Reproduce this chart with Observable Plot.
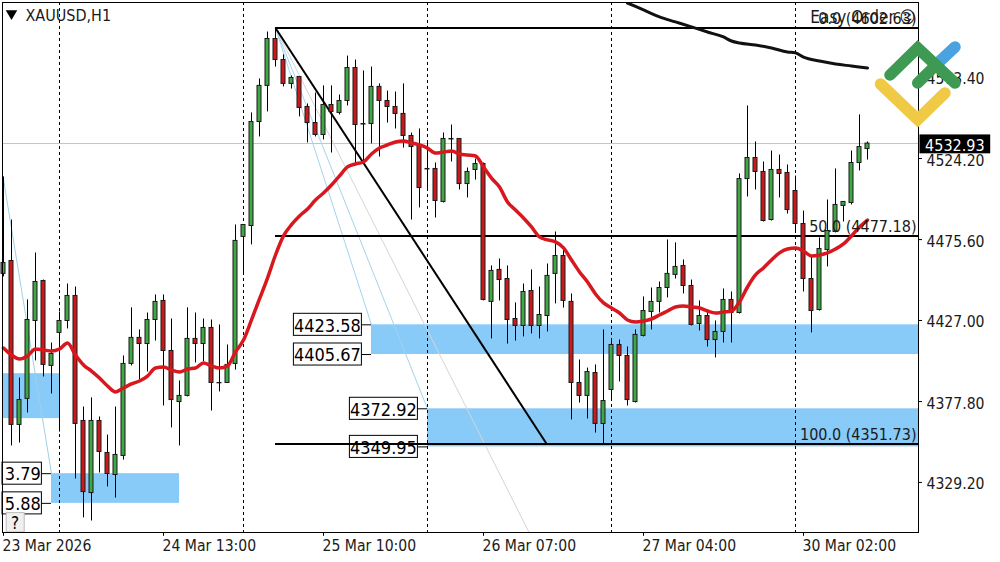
<!DOCTYPE html>
<html><head><meta charset="utf-8">
<script src="https://cdn.jsdelivr.net/npm/d3@7"></script>
<script src="https://cdn.jsdelivr.net/npm/@observablehq/plot@0.6"></script>
<style>html,body{margin:0;padding:0;background:#fff}svg{display:block}</style>
</head><body><div id="chart"></div>
<script>
const FONT = '"DejaVu Sans Condensed","Liberation Sans",sans-serif';
// OHLC, one value per hourly bar
const open = [4454.3,4462.1,4363.2,4378.9,4425.9,4450.0,4398.8,4418.7,4425.9,4441.0,4365.6,4322.1,4365.6,4346.3,4333.0,4344.5,4400.0,4415.7,4412.0,4426.5,4438.0,4407.8,4377.0,4380.7,4415.1,4412.0,4421.7,4388.5,4388.5,4400.0,4476.6,4483.2,4545.9,4567.7,4596.0,4583.3,4568.9,4573.1,4555.0,4545.3,4538.1,4556.2,4551.4,4558.6,4578.5,4544.7,4544.7,4567.1,4558.6,4555.0,4550.8,4537.5,4531.4,4517.6,4517.6,4497.7,4535.7,4535.7,4508.5,4517.0,4520.6,4437.4,4456.7,4451.2,4427.1,4422.9,4444.0,4422.9,4428.9,4454.3,4465.1,4437.4,4388.5,4380.7,4394.5,4363.8,4384.3,4411.4,4404.8,4377.0,4416.9,4431.3,4437.4,4445.8,4453.7,4459.1,4447.0,4424.1,4428.9,4414.4,4419.3,4438.6,4430.7,4511.5,4524.2,4515.8,4486.8,4517.0,4515.2,4504.3,4484.4,4451.2,4432.5,4468.7,4479.6,4495.3,4497.1,4521.2,4529.6];
const high = [4512.8,4486.8,4391.5,4438.6,4466.9,4450.6,4412.6,4431.3,4448.2,4446.4,4374.0,4379.5,4368.0,4357.1,4374.0,4404.8,4433.8,4420.5,4430.7,4441.6,4441.6,4427.1,4389.7,4433.8,4430.7,4427.1,4426.5,4423.5,4411.4,4483.8,4483.8,4551.4,4571.9,4600.2,4602.6,4586.4,4573.7,4573.1,4556.8,4563.4,4567.7,4567.7,4562.2,4585.7,4583.3,4576.7,4579.1,4568.9,4564.6,4564.0,4568.9,4539.3,4541.7,4534.5,4521.2,4539.3,4544.1,4535.7,4518.2,4523.6,4521.2,4459.1,4463.3,4459.1,4436.8,4448.2,4456.7,4446.4,4460.3,4479.6,4468.7,4442.2,4402.4,4397.5,4399.4,4420.5,4414.4,4414.4,4410.2,4420.5,4440.4,4445.8,4449.4,4474.8,4473.0,4462.7,4450.6,4438.0,4432.5,4425.9,4445.2,4443.4,4514.6,4555.6,4533.9,4521.8,4528.4,4526.0,4520.0,4513.3,4492.2,4464.5,4476.0,4498.9,4517.6,4497.7,4528.4,4550.2,4533.9];
const low = [4452.5,4350.5,4352.3,4370.4,4401.8,4392.1,4381.9,4358.9,4421.1,4330.6,4307.1,4305.2,4334.2,4325.8,4319.1,4342.0,4398.8,4390.3,4395.1,4413.8,4374.6,4361.4,4350.5,4380.1,4400.6,4401.2,4371.6,4383.1,4388.3,4396.3,4454.3,4471.8,4536.9,4552.0,4579.1,4567.1,4565.8,4549.0,4533.3,4536.9,4535.1,4527.2,4550.2,4555.6,4521.2,4521.2,4532.7,4524.8,4545.3,4541.7,4530.2,4486.8,4494.1,4504.3,4488.0,4497.1,4521.8,4504.9,4500.1,4510.9,4438.0,4415.1,4438.0,4412.0,4413.8,4416.3,4418.1,4415.1,4419.3,4436.2,4433.7,4366.2,4376.4,4366.8,4358.3,4351.1,4378.2,4389.1,4374.6,4376.4,4416.3,4420.5,4430.7,4439.8,4451.2,4442.2,4422.9,4419.9,4410.2,4403.6,4412.6,4412.6,4430.1,4500.7,4504.9,4485.6,4486.2,4500.1,4490.4,4479.0,4443.4,4418.7,4431.9,4458.5,4479.0,4485.6,4495.9,4516.4,4523.0];
const close = [4460.9,4363.2,4378.2,4426.5,4449.4,4399.4,4406.0,4425.9,4441.0,4363.8,4322.7,4365.6,4346.9,4333.6,4345.1,4400.0,4415.7,4412.0,4426.5,4437.4,4407.8,4378.2,4380.7,4415.1,4412.0,4421.7,4388.5,4388.3,4399.4,4474.2,4483.8,4545.9,4567.7,4596.0,4583.3,4568.9,4572.5,4554.4,4545.3,4538.1,4556.2,4552.0,4558.6,4578.5,4544.1,4544.4,4567.1,4558.6,4555.0,4550.8,4537.5,4530.8,4506.1,4517.3,4498.3,4535.7,4535.4,4508.5,4515.8,4520.6,4438.6,4456.1,4450.6,4426.5,4422.9,4443.4,4422.9,4429.5,4453.1,4465.1,4438.0,4388.5,4380.7,4395.1,4363.8,4377.6,4411.4,4404.8,4378.2,4417.5,4431.9,4437.4,4445.8,4454.3,4458.5,4447.0,4423.5,4428.9,4414.4,4419.3,4438.6,4430.7,4511.5,4524.2,4515.8,4486.2,4517.0,4514.6,4492.8,4484.4,4451.2,4431.9,4469.3,4480.2,4495.9,4497.7,4521.2,4530.8,4532.9];
// red moving average, one value per bar
const redMA = [4409.6,4405.4,4403.0,4404.8,4409.0,4408.4,4407.8,4409.0,4412.6,4405.4,4399.4,4395.7,4391.5,4386.7,4383.1,4385.5,4387.9,4389.7,4392.7,4397.5,4398.1,4396.3,4395.1,4396.9,4397.5,4400.6,4398.8,4397.5,4398.8,4407.2,4414.4,4426.5,4439.2,4451.8,4465.7,4477.2,4484.0,4489.2,4493.4,4498.9,4503.1,4507.9,4513.4,4518.8,4520.6,4521.8,4526.6,4530.2,4532.1,4533.9,4534.5,4533.3,4532.1,4530.2,4527.2,4527.8,4528.4,4526.6,4526.0,4525.4,4518.8,4512.1,4506.7,4497.7,4492.8,4488.0,4482.6,4476.6,4474.8,4473.6,4470.0,4462.7,4455.5,4449.4,4442.2,4436.8,4433.7,4430.7,4426.5,4425.3,4425.9,4427.1,4429.5,4431.9,4434.3,4435.0,4434.3,4433.7,4431.9,4430.7,4431.3,4431.9,4437.4,4446.4,4453.7,4457.9,4462.7,4467.0,4469.3,4469.9,4468.1,4465.1,4465.7,4467.0,4469.3,4472.4,4477.2,4482.6,4486.8];
// black moving average, read at these bars
const blackBars = [78,80,82,84,86,88,90,91,92,94,96,98,99,100,102,104,106,108];
const blackMA = [4617.7,4613.5,4609.3,4606.3,4603.3,4600.2,4597.2,4594.8,4593.6,4592.4,4590.6,4588.2,4587.6,4585.1,4582.7,4580.9,4579.7,4578.5];
// axes
const xTickBars = [0,20,40,60,80,100];
const xTickLabels = ["23 Mar 2026","24 Mar 13:00","25 Mar 10:00","26 Mar 07:00","27 Mar 04:00","30 Mar 02:00"];
const yTickAt = [4572.8,4523.9,4475.0,4426.2,4377.3,4328.5];
const yTickLabels = ["4573.40","4524.20","4475.60","4427.00","4377.80","4329.20"];
const sessionBars = [7,30,53,76,99];
// Fibonacci levels
const fibStartBar = 34, fibEndBar = 67.9;
const fibLevels = [4602.63,4477.18,4351.73];
const fibLabels = ["0.0 (4602.63)","50.0 (4477.18)","100.0 (4351.73)"];
const lastPrice = 4532.93;
// zones: start bar, end bar, top, bottom
const zoneStart = [-0.125,6,46,53];
const zoneEnd = [7,22,114.375,114.375];
const zoneTop = [4394.1,4333.79,4423.58,4372.92];
const zoneBottom = [4367.0,4315.88,4405.67,4349.95];
// zone price tags
const tagBars = [6,6,46,46,53,53];
const tagPrices = [4333.79,4315.88,4423.58,4405.67,4372.92,4349.95];
const tagTexts = ["3.79","5.88","4423.58","4405.67","4372.92","4349.95"];
// thin trend lines: x1,y1,x2,y2 in bars / price
const thinFrom = [[-0.05,4512.8],[34,4602.63],[34,4602.63],[34,4602.63]];
const thinTo = [[6,4333.79],[46,4423.58],[53,4372.92],[65.7,4298.31]];
const thinColor = ["#9fd0e8","#a5d3ec","#a5d3ec","#d4d4d4"];

const bars = open.map((o,i)=>({i,o,h:high[i],l:low[i],c:close[i],up:close[i]>o}));
const GREEN="#3fa845", RED="#cc1a1c", ZONE="#88caf8", INK="#1a1a1a";
const tagH = 6.65, tagW = 8.5, tagGap = 1.2;
const tags = tagBars.map((b,i)=>({right:b-tagGap,left:Math.max(-0.125,b-tagGap-tagW),b,p:tagPrices[i],t:tagTexts[i]}));

function logo(){
  const ns="http://www.w3.org/2000/svg", g=document.createElementNS(ns,"g");
  const parts=[["#4aa3e0","939,62 955,47"],["#f0c945","880.5,84 917.7,119.5 945,93"],["#3e9a52","890,75 917.7,48 955,83"],["#3e9a52","917.7,83 936,65"]];
  for(const [c,pts] of parts){
    const p=document.createElementNS(ns,"polyline");
    p.setAttribute("points",pts);p.setAttribute("fill","none");p.setAttribute("stroke",c);
    p.setAttribute("stroke-width","11.5");p.setAttribute("stroke-linecap","round");p.setAttribute("stroke-linejoin","miter");
    g.appendChild(p);
  }
  return g;
}

const chart = Plot.plot({
  width:1000,height:562,marginLeft:2,marginRight:82,marginTop:2,marginBottom:30,
  style:{fontFamily:FONT,background:"#fff",color:"#000",overflow:"visible"},
  x:{type:"linear",domain:[-0.125,114.375],axis:null},
  y:{type:"linear",domain:[4298.31,4618.01],axis:null},
  marks:[
    Plot.rect(zoneStart,{x1:(d,i)=>d,x2:(d,i)=>zoneEnd[i],y1:(d,i)=>zoneTop[i],y2:(d,i)=>zoneBottom[i],fill:ZONE}),
    Plot.ruleY([lastPrice],{stroke:"#c4c4c4",strokeWidth:1}),
    Plot.ruleX(sessionBars,{x:d=>d,stroke:"#000",strokeWidth:1,strokeDasharray:"3,3"}),
    ...thinFrom.map((f,k)=>Plot.link([k],{x1:()=>f[0],y1:()=>f[1],x2:()=>thinTo[k][0],y2:()=>thinTo[k][1],stroke:thinColor[k],strokeWidth:1})),
    // price tags
    Plot.ruleY(tags,{x1:"right",x2:"b",y:"p",stroke:"#000",strokeWidth:1}),
    Plot.rect(tags,{x1:"left",x2:"right",y1:d=>d.p+tagH,y2:d=>d.p-tagH,fill:"#fff",stroke:"#000",strokeWidth:1}),
    Plot.text(tags,{x:"right",y:"p",text:"t",textAnchor:"end",dx:-1,dy:1,fontSize:18,fill:"#000"}),
    // fib
    Plot.ruleY(fibLevels,{y:d=>d,x1:fibStartBar,x2:114.375,stroke:"#000",strokeWidth:2}),
    Plot.link([0],{x1:()=>fibStartBar,y1:()=>fibLevels[0],x2:()=>fibEndBar,y2:()=>fibLevels[2],stroke:"#000",strokeWidth:2}),
    // candles
    Plot.ruleX(bars,{x:"i",y1:"l",y2:"h",stroke:"#000",strokeWidth:1}),
    Plot.rect(bars,{x1:d=>d.i-0.25,x2:d=>d.i+0.25,y1:"o",y2:"c",fill:d=>d.up?GREEN:RED,stroke:"#1a1a1a",strokeWidth:1}),
    Plot.line(redMA,{x:(d,i)=>i,y:d=>d,stroke:"#d8181e",strokeWidth:3.5,curve:"monotone-x",strokeLinejoin:"round"}),
    Plot.line(blackMA,{x:(d,i)=>blackBars[i],y:d=>d,stroke:"#111",strokeWidth:3,curve:"monotone-x",clip:true}),
    // fib labels
    Plot.text(fibLabels,{text:d=>d,x:114.375,y:(d,i)=>fibLevels[i],textAnchor:"end",dx:-2,dy:-9,fontSize:16,fill:INK}),
    Plot.text(["Easy Order ☺"],{frameAnchor:"top-right",text:d=>d,dx:-3,dy:8,fontSize:17,fill:INK,textAnchor:"end"}),
    Plot.text(["XAUUSD,H1"],{frameAnchor:"top-left",text:d=>d,dx:23,dy:7,fontSize:16,fill:INK,textAnchor:"start"}),
    Plot.dot([0],{x:1,y:4611.4,symbol:"triangle2",r:5.5,fill:"#000",rotate:180}),
    // help box
    Plot.rect([0],{x1:0.4,x2:2.65,y1:4298.31,y2:4310,fill:"#f0f0f0",stroke:"#bbb"}),
    Plot.text(["?"],{x:1.45,y:4304,text:d=>d,fontSize:17,fill:"#000"}),
    // frame + axes
    Plot.frame({stroke:"#000",strokeWidth:1}),
    Plot.ruleX(xTickBars,{x:d=>d,y1:4298.31,y2:4296,stroke:"#000",strokeWidth:1}),
    Plot.ruleY(yTickAt,{y:d=>d,x1:114.375,x2:114.875,stroke:"#000",strokeWidth:1}),
    Plot.axisX({ticks:xTickBars,tickFormat:d=>xTickLabels[xTickBars.indexOf(d)],tickSize:0,tickPadding:7,textAnchor:"start",fontSize:15.6,dx:-1,label:null,color:INK}),
    Plot.axisY({anchor:"right",ticks:yTickAt,tickFormat:d=>yTickLabels[yTickAt.indexOf(d)],tickSize:0,tickPadding:8,dy:2,fontSize:15.6,label:null,color:INK}),
    // last price tag
    Plot.rect([0],{x1:114.56,x2:123.4,y1:lastPrice+5.2,y2:lastPrice-6.2,fill:"#000"}),
    Plot.text([lastPrice],{x:115.2,y:d=>d,text:d=>d.toFixed(2),textAnchor:"start",fill:"#fff",fontSize:16,dy:2}),
    logo
  ]
});
document.getElementById("chart").appendChild(chart);
</script></body></html>
